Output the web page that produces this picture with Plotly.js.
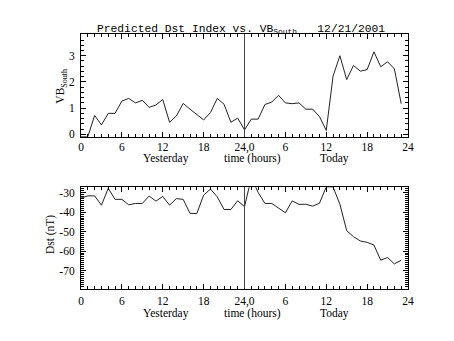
<!DOCTYPE html>
<html><head><meta charset="utf-8">
<script src="https://cdn.plot.ly/plotly-3.0.1.min.js"></script>
<style>html,body{margin:0;padding:0;background:#fff}#c{width:454px;height:341px}</style>
</head><body><div id="c"></div>
<script>
var hours = [0,1,2,3,4,5,6,7,8,9,10,11,12,13,14,15,16,17,18,19,20,21,22,23,24,25,26,27,28,29,30,31,32,33,34,35,36,37,38,39,40,41,42,43,44,45,46,47];
var vbSouth = [-0.09,-0.09,0.72,0.36,0.8,0.8,1.27,1.37,1.2,1.3,1.03,1.12,1.33,0.46,0.7,1.18,0.96,0.74,0.55,0.83,1.37,1.15,0.46,0.62,0.17,0.58,0.58,1.14,1.23,1.49,1.2,1.17,1.2,0.96,0.96,0.68,0.15,2.22,3.0,2.09,2.63,2.41,2.47,3.15,2.58,2.77,2.5,1.17];
var dst = [-32.8,-31.6,-31.6,-36.4,-27.7,-33.4,-33.4,-36.2,-35.5,-35.5,-31.7,-34.3,-31.9,-36.4,-33,-33.4,-40.6,-40.7,-31.2,-28.1,-32.1,-38.6,-38.6,-34.1,-37.2,-22.3,-29.8,-35.5,-35.5,-37.9,-40.3,-34.2,-36,-35.9,-36.9,-35.4,-27,-27,-35.9,-49.5,-52.6,-54.8,-55.5,-56.9,-64.7,-63.3,-66.6,-64.7];
var xTickVals = [0,6,12,18,24,30,36,42,48];
var xTickText = ["0","6","12","18","24,0","6","12","18","24"];
var vbTickVals = [0,1,2,3];
var dstTickVals = [-30,-40,-50,-60,-70];
var dstTickText = ["-30","-40","-50","-60","-70"];

var F = "Liberation Serif";
var font = {family:F, size:11.5, color:"#000"};

function xax(anchor, standoff){
  return {anchor:anchor, range:[0,48], domain:[0,1], showgrid:false, zeroline:false,
    showline:true, linecolor:"#000", linewidth:1, mirror:"ticks",
    ticks:"inside", ticklen:5, tickcolor:"#000", tickwidth:1,
    tickmode:"array", tickvals:xTickVals, ticktext:xTickText, tickfont:font,
    ticklabelstandoff:standoff,
    minor:{ticks:"inside", ticklen:3, tickcolor:"#000", tickwidth:1, tickmode:"linear", tick0:0, dtick:1, showgrid:false}};
}
function yax(anchor, dom, rng, tv, tt, mdt){
  return {anchor:anchor, domain:dom, range:rng, showgrid:false, zeroline:false,
    showline:true, linecolor:"#000", linewidth:1, mirror:"ticks",
    ticks:"inside", ticklen:5, tickcolor:"#000", tickwidth:1,
    tickmode:"array", tickvals:tv, ticktext:tt, tickfont:font, ticklabelstandoff:3,
    minor:{ticks:"inside", ticklen:3, tickcolor:"#000", tickwidth:1, tickmode:"linear", tick0:0, dtick:mdt, showgrid:false}};
}

var traces = [
  {x:hours, y:vbSouth, xaxis:"x", yaxis:"y", type:"scatter", mode:"lines", line:{color:"#222", width:1}, hoverinfo:"skip"},
  {x:hours, y:dst, xaxis:"x2", yaxis:"y2", type:"scatter", mode:"lines", line:{color:"#222", width:1}, hoverinfo:"skip"}
];

var NB = "\u00A0";
var layout = {
  width:454, height:341, paper_bgcolor:"#fff", plot_bgcolor:"#fff", showlegend:false,
  margin:{l:81, r:46, t:34, b:52},
  xaxis: xax("y", 0),
  yaxis: yax("x", [0.5973,1], [-0.09,3.83], vbTickVals, ["0","1","2","3"], 0.2),
  xaxis2: xax("y2", 1),
  yaxis2: yax("x2", [0,0.3988], [-79.5,-27.2], dstTickVals, dstTickText, 1),
  shapes:[
    {type:"line", xref:"x", yref:"y domain", x0:24, x1:24, y0:0, y1:1, line:{color:"#444", width:1}},
    {type:"line", xref:"x2", yref:"y2 domain", x0:24, x1:24, y0:0, y1:1, line:{color:"#444", width:1}}
  ],
  annotations:[
    {text:"Predicted Dst Index vs. VB<sub>South</sub>"+NB+NB+NB+"12/21/2001", xref:"paper", yref:"paper", x:0.49, y:1.018, xanchor:"center", yanchor:"middle", showarrow:false, font:{family:"Liberation Mono", size:11.3, color:"#000"}},
    {text:"VB<sub>South</sub>", textangle:-90, xref:"paper", yref:"paper", x:-0.06, y:0.795, xanchor:"center", yanchor:"middle", showarrow:false, font:font},
    {text:"Dst (nT)", textangle:-90, xref:"paper", yref:"paper", x:-0.095, y:0.215, xanchor:"center", yanchor:"middle", showarrow:false, font:font},
    {text:"Yesterday", xref:"x", yref:"y domain", x:12.5, y:-0.215, xanchor:"center", yanchor:"middle", showarrow:false, font:font},
    {text:"time (hours)", xref:"x", yref:"y domain", x:25.2, y:-0.215, xanchor:"center", yanchor:"middle", showarrow:false, font:font},
    {text:"Today", xref:"x", yref:"y domain", x:37.2, y:-0.215, xanchor:"center", yanchor:"middle", showarrow:false, font:font},
    {text:"Yesterday", xref:"x2", yref:"y2 domain", x:12.5, y:-0.24, xanchor:"center", yanchor:"middle", showarrow:false, font:font},
    {text:"time (hours)", xref:"x2", yref:"y2 domain", x:25.2, y:-0.24, xanchor:"center", yanchor:"middle", showarrow:false, font:font},
    {text:"Today", xref:"x2", yref:"y2 domain", x:37.2, y:-0.24, xanchor:"center", yanchor:"middle", showarrow:false, font:font}
  ]
};
Plotly.newPlot("c", traces, layout, {staticPlot:true, displayModeBar:false});
</script></body></html>
